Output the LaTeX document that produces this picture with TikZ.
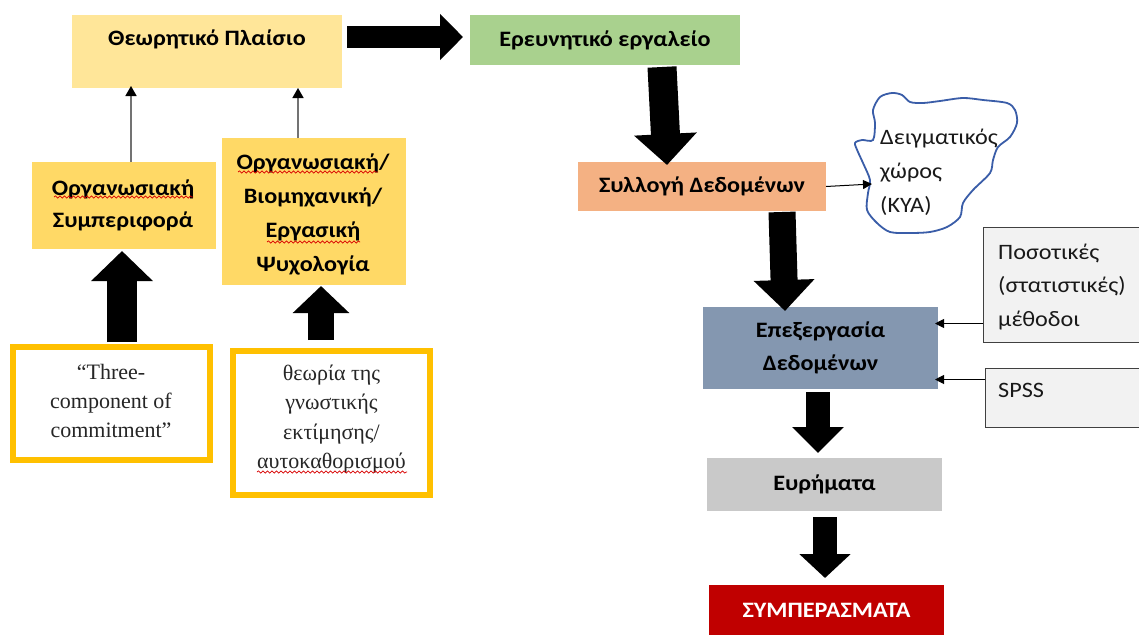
\documentclass[tikz,border=0pt]{standalone}
\usepackage{fontspec}
\setmainfont{Carlito}[FakeStretch=1.1]
\newfontfamily\timesgr{Liberation Serif}
\usetikzlibrary{arrows.meta,decorations.pathmorphing,calc}

\definecolor{theoryfill}{HTML}{FFE699}
\definecolor{orgfill}{HTML}{FFD966}
\definecolor{goldline}{HTML}{FFC000}
\definecolor{researchfill}{HTML}{A9D18E}
\definecolor{collectfill}{HTML}{F4B183}
\definecolor{processfill}{HTML}{8497B0}
\definecolor{findfill}{HTML}{C9C9C9}
\definecolor{conclfill}{HTML}{C00000}
\definecolor{notefill}{HTML}{F2F2F2}
\definecolor{cloudblue}{HTML}{3A5DA8}

\tikzset{
  panel/.style={draw=none, inner sep=0pt, outer sep=0pt},
  lbl/.style={font=\bfseries\fontsize{22}{32}\selectfont, align=center, inner sep=0pt, text=black},
  plainlbl/.style={font=\fontsize{22}{34}\selectfont, align=left, inner sep=0pt, text=black!90},
  serifbox/.style={draw=goldline, line width=6pt, fill=white, inner sep=0pt,
    font=\timesgr\fontsize{22}{29.3}\selectfont, align=center, text=black!85},
  notebox/.style={draw=black!75, line width=1pt, fill=notefill, inner sep=0pt},
  bigarrow/.style n args={3}{draw=black, line width=#1, -{Triangle[length=#2, width=#3]}},
  thinarrow/.style={draw=black, line width=1pt, -{Triangle[length=9pt, width=9pt]}},
  greyarrow/.style={draw=black!55, line width=1.6pt, -{Triangle[length=10pt, width=11pt, black]}},
  squig/.style={draw=red!85!black, line width=0.7pt, decorate,
    decoration={snake, amplitude=1.1pt, segment length=4.5pt}},
}

\begin{document}
\begin{tikzpicture}[x=1pt,y=-1pt]
\useasboundingbox (0,0) rectangle (1139,634);
\clip (0,0) rectangle (1139,634);
\fill[white] (0,0) rectangle (1139,634);

% ---- left column: theory and its sources ----
\node[panel, fill=theoryfill, minimum width=270, minimum height=73, anchor=north west] (theory) at (72,15) {};
\node[lbl] (theorylbl) at (207,39) {Θεωρητικό Πλαίσιο};

\node[panel, fill=orgfill, minimum width=184, minimum height=87, anchor=north west] (orgbeh) at (32,162) {};
\node[lbl] (orgbehlbl) at (123,205) {Οργανωσιακή\\Συμπεριφορά};

\node[panel, fill=orgfill, minimum width=184, minimum height=147, anchor=north west] (orgpsy) at (222,138) {};
\node[lbl, font=\bfseries\fontsize{22}{34}\selectfont] (orgpsylbl) at (313,214) {Οργανωσιακή/\\Βιομηχανική/\\Εργασική\\Ψυχολογία};

\node[serifbox, minimum width=197, minimum height=113] (three) at (111.5,403.5) {};
\node[font=\timesgr\fontsize{22}{29.3}\selectfont, align=center, inner sep=0pt, text=black!85] (threelbl) at (111,401) {“Three-\\component of\\commitment”};
\node[serifbox, minimum width=197, minimum height=144] (cogn) at (331.5,423) {};
\node[font=\timesgr\fontsize{22}{29.3}\selectfont, align=center, inner sep=0pt, text=black!85] (cognlbl) at (331.5,419) {θεωρία της\\γνωστικής\\εκτίμησης/\\αυτοκαθορισμού};

% spelling marks
\draw[squig] (54,197) -- (193,197);
\draw[squig] (238,172) -- (378,172);
\draw[squig] (267,242) -- (360,242);
\draw[squig] (257,472) -- (407,472);

% ---- right column: research process ----
\node[panel, fill=researchfill, minimum width=270, minimum height=50, anchor=north west, lbl] (research) at (470,15) {Ερευνητικό εργαλείο};
\node[panel, fill=collectfill, minimum width=248, minimum height=49, anchor=north west, lbl] (collect) at (578,162) {Συλλογή Δεδομένων};
\node[panel, fill=processfill, minimum width=235, minimum height=82, anchor=north west, lbl, font=\bfseries\fontsize{22}{33}\selectfont] (process) at (703,307) {Επεξεργασία\\Δεδομένων};
\node[panel, fill=findfill, minimum width=235, minimum height=53, anchor=north west, lbl] (find) at (707,458) {Ευρήματα};
\node[panel, fill=conclfill, minimum width=235, minimum height=60, anchor=north west] (concl) at (709,585) {};
\node[lbl, text=white] (concllbl) at (826.5,610) {ΣΥΜΠΕΡΑΣΜΑΤΑ};

% sample space cloud
\draw[cloudblue, line width=1.8pt] plot[smooth cycle, tension=0.5] coordinates {
  (880,97) (892,93) (902,95) (910,102) (923,103) (940,101) (963,98)
  (983,100) (1007,103) (1015,110) (1017,123) (1010,137) (998,147)
  (993,160) (990,173) (973,190) (963,203) (960,217) (947,227)
  (930,232) (910,233) (890,232) (877,223) (867,210) (868,193)
  (870,180) (863,163) (858,152) (855,143) (862,140) (873,140)
  (875,123) (873,110)};
\node[plainlbl, anchor=west] (cloudlbl) at (880,172) {Δειγματικός\\χώρος\\(ΚΥΑ)};
\coordinate (cloudin) at (872,184);

% side notes
\node[notebox, minimum width=170, minimum height=115, anchor=north west] (quant) at (983,227) {};
\node[plainlbl, anchor=west, font=\fontsize{22}{33.5}\selectfont] (quantlbl) at (998,287) {Ποσοτικές\\(στατιστικές)\\μέθοδοι};
\node[notebox, minimum width=170, minimum height=59, anchor=north west] (spss) at (985,368) {};
\node[plainlbl, anchor=west] (spsslbl) at (998,390) {SPSS};

% ---- block arrows ----
\coordinate (ta) at ([shift={(5,-3)}]theory.east |- research.west);
\coordinate (tb) at ([shift={(-7,-3)}]research.west);
\draw[bigarrow={22pt}{23pt}{45pt}] (ta) -- (tb);

\coordinate (d1a) at ([shift={(57,2)}]research.south);
\coordinate (d1b) at ([shift={(5,3)}]d1a |- collect.north);
\draw[bigarrow={29pt}{31pt}{61pt}] (d1a) -- (d1b);

\coordinate (d2a) at ([shift={(80,1)}]collect.south);
\coordinate (d2b) at ([shift={(3,4)}]d2a |- process.north);
\draw[bigarrow={27pt}{31pt}{59pt}] (d2a) -- (d2b);

\coordinate (d3a) at ([shift={(-2.5,3)}]process.south);
\coordinate (d3b) at ([yshift=5pt]d3a |- find.north);
\draw[bigarrow={24pt}{26pt}{50pt}] (d3a) -- (d3b);

\coordinate (d4a) at ([shift={(0.5,6)}]find.south);
\coordinate (d4b) at ([yshift=7pt]d4a |- concl.north);
\draw[bigarrow={24pt}{24pt}{50pt}] (d4a) -- (d4b);

\coordinate (u1a) at ([shift={(10.5,-2)}]three.north);
\coordinate (u1b) at ([yshift=-2pt]u1a |- orgbeh.south);
\draw[bigarrow={30pt}{30pt}{60pt}] (u1a) -- (u1b);

\coordinate (u2a) at ([shift={(-10.5,-8)}]cogn.north);
\coordinate (u2b) at ([yshift=-1pt]u2a |- orgpsy.south);
\draw[bigarrow={26pt}{27pt}{55pt}] (u2a) -- (u2b);

% ---- thin connectors ----
\coordinate (g1a) at ([xshift=7pt]orgbeh.north);
\draw[greyarrow] (g1a) -- ([yshift=2pt]g1a |- theory.south);
\coordinate (g2a) at ([xshift=-16pt]orgpsy.north);
\draw[greyarrow] (g2a) -- (g2a |- theory.south);

\draw[thinarrow] (collect.east) -- (cloudin);
\coordinate (qa) at ([yshift=-38.5pt]quant.west);
\draw[thinarrow] (qa) -- ([xshift=-3pt]qa -| process.east);
\coordinate (sa) at ([yshift=18.5pt]spss.west);
\draw[thinarrow] (sa) -- ([xshift=-3pt]sa -| process.east);
\end{tikzpicture}
\end{document}
